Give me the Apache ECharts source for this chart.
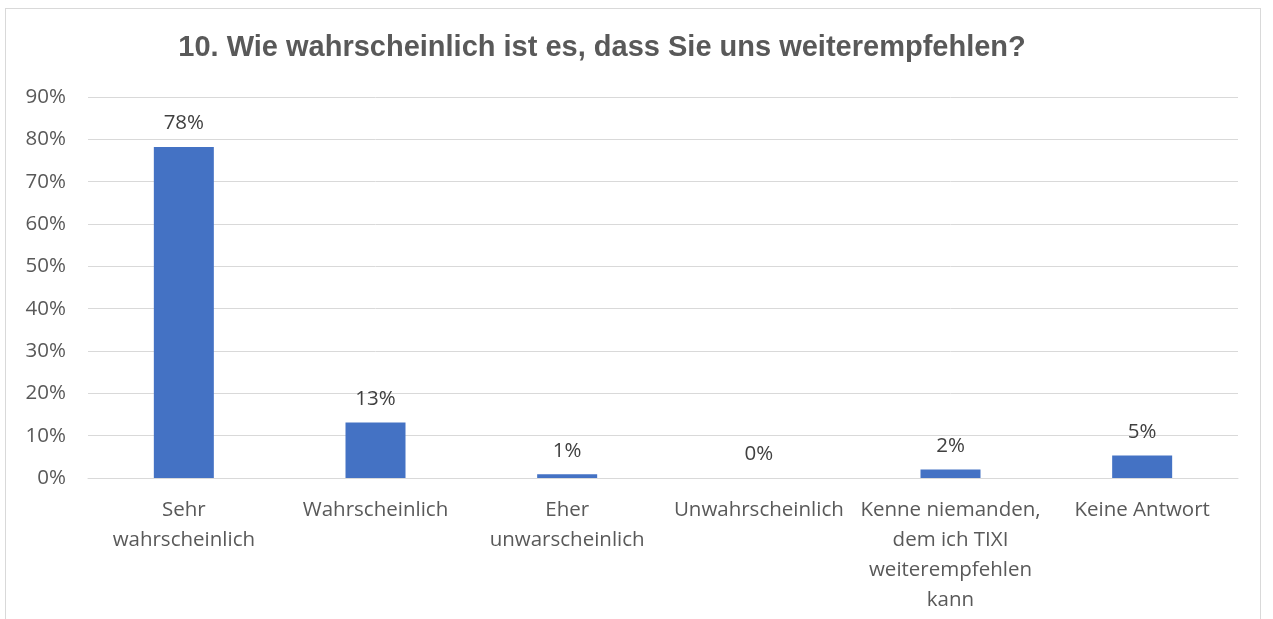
<!DOCTYPE html>
<html lang="de">
  <head>
    <meta charset="UTF-8" />
    <title>Weiterempfehlung</title>
    <script src="https://cdn.jsdelivr.net/npm/echarts@6/dist/echarts.min.js"></script>
    <style>
      html, body { margin: 0; padding: 0; background: #fff; }
      #frame {
        position: absolute;
        left: 5px; top: 8px;
        width: 1256px; height: 640px;
        border: 1px solid #d9d9d9;
        box-sizing: border-box;
      }
      #chart { position: absolute; left: 0; top: 0; width: 1273px; height: 619px; }
    </style>
  </head>
  <body>
    <div id="frame"></div>
    <div id="chart"></div>
    <script>
      // Antwortkategorien und Anteile
      var categories = [
        'Sehr\nwahrscheinlich',
        'Wahrscheinlich',
        'Eher\nunwarscheinlich',
        'Unwahrscheinlich',
        'Kenne niemanden,\ndem ich TIXI\nweiterempfehlen\nkann',
        'Keine Antwort'
      ];
      var shares = [0.782, 0.131, 0.009, 0.0, 0.02, 0.053];
      var yTicks = [0, 0.1, 0.2, 0.3, 0.4, 0.5, 0.6, 0.7, 0.8, 0.9];

      var font = 'Open Sans, Noto Sans, sans-serif';
      var chart = echarts.init(document.getElementById('chart'));
      chart.setOption({
        animation: false,
        title: {
          text: '10. Wie wahrscheinlich ist es, dass Sie uns weiterempfehlen?',
          left: 597,
          textAlign: 'center',
          top: 28,
          textStyle: {
            fontFamily: 'Liberation Sans, Arial, sans-serif',
            fontSize: 29,
            fontWeight: 'bold',
            color: '#595959'
          }
        },
        grid: { left: 88, right: 35, top: 97, bottom: 141 },
        xAxis: {
          type: 'category',
          data: categories,
          axisLine: { lineStyle: { color: '#d9d9d9', width: 1 } },
          axisTick: { show: false },
          axisLabel: {
            interval: 0,
            margin: 17,
            fontFamily: font,
            fontSize: 20.5,
            lineHeight: 30,
            color: '#595959'
          }
        },
        yAxis: {
          type: 'value',
          min: yTicks[0],
          max: yTicks[yTicks.length - 1],
          interval: 0.1,
          axisLine: { show: false },
          axisTick: { show: false },
          splitLine: { lineStyle: { color: '#d9d9d9', width: 1 } },
          axisLabel: {
            margin: 22,
            fontFamily: font,
            fontSize: 20.5,
            color: '#595959'
          ,
            formatter: function (v) { return Math.round(v * 100) + '%'; }
          }
        },
        series: [
          {
            type: 'bar',
            data: shares,
            barWidth: 60,
            itemStyle: { color: '#4472c4' },
            label: {
              show: true,
              position: 'top',
              distance: 13,
              fontFamily: font,
              fontSize: 20.5,
              color: '#404040',
              formatter: function (p) { return Math.round(p.value * 100) + '%'; }
            }
          }
        ]
      });
    </script>
  </body>
</html>
